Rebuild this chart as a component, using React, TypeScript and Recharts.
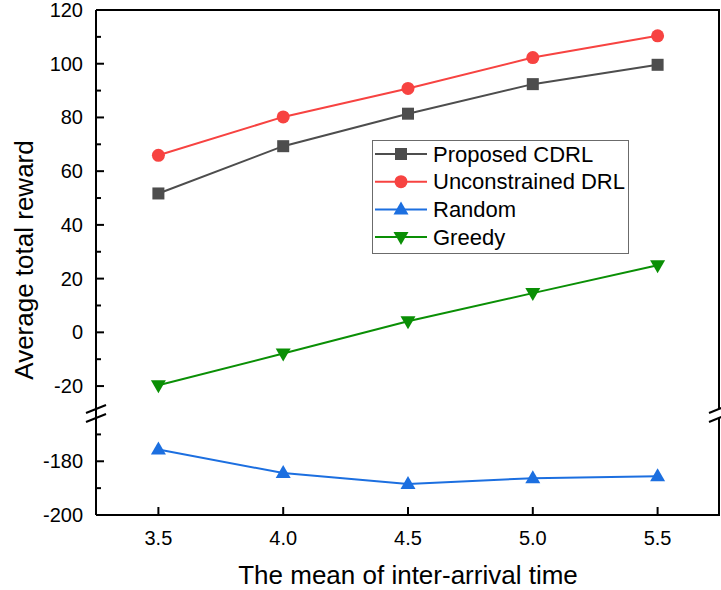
import { LineChart, Line, XAxis, YAxis, Customized } from 'recharts';

const arrivalMeans = [3.5, 4.0, 4.5, 5.0, 5.5];
const proposedCdrl = [51.7, 69.3, 81.4, 92.4, 99.6];
const unconstrainedDrl = [65.9, 80.2, 90.8, 102.3, 110.4];
const randomPolicy = [-175.6, -184.4, -188.5, -186.3, -185.6];
const greedyPolicy = [-19.7, -7.9, 4.1, 14.6, 25.0];

// broken y axis: the lower part (-200..-170) is shifted up by this offset
const LOWER_OFFSET = 132;
const upperTicks = [120, 110, 100, 90, 80, 70, 60, 50, 40, 30, 20, 10, 0, -10, -20];
const lowerTicks = [-170, -180, -190, -200];
const labelledTicks = [120, 100, 80, 60, 40, 20, 0, -20, -180, -200];
const xTicks = [3.5, 4.0, 4.5, 5.0, 5.5];

const Y_MIN = -200 + LOWER_OFFSET;
const Y_MAX = 120;
const BREAK_AT = -31.5;

const W = 721;
const H = 590;
const PLOT_L = 96;
const PLOT_T = 10;
const PLOT_R = 720;
const PLOT_B = 515;
const FONT = '"Liberation Sans", Arial, sans-serif';

const COLORS = {
  cdrl: '#4d4d4d',
  drl: '#f74341',
  random: '#1c6fe0',
  greedy: '#0a8f05',
};

const data = arrivalMeans.map((t, i) => ({
  t,
  cdrl: proposedCdrl[i],
  drl: unconstrainedDrl[i],
  random: randomPolicy[i] + LOWER_OFFSET,
  greedy: greedyPolicy[i],
}));

const allYTicks = [...upperTicks, ...lowerTicks.map((v) => v + LOWER_OFFSET)];

const toLabel = (v: number) => (v < BREAK_AT ? v - LOWER_OFFSET : v);

type Shape = 'square' | 'circle' | 'up' | 'down';

function Marker({ cx, cy, shape, color }: { cx: number; cy: number; shape: Shape; color: string }) {
  if (cx == null || cy == null) return null;
  if (shape === 'square') return <rect x={cx - 6} y={cy - 6} width={12} height={12} fill={color} />;
  if (shape === 'circle') return <circle cx={cx} cy={cy} r={6.5} fill={color} />;
  if (shape === 'up')
    return <polygon points={`${cx},${cy - 8} ${cx + 7.5},${cy + 5} ${cx - 7.5},${cy + 5}`} fill={color} />;
  return <polygon points={`${cx},${cy + 8} ${cx + 7.5},${cy - 5} ${cx - 7.5},${cy - 5}`} fill={color} />;
}

const dotFor = (shape: Shape, color: string) => (props: any) =>
  <Marker key={`${shape}-${props.index}`} cx={props.cx} cy={props.cy} shape={shape} color={color} />;

const Y_MARGIN = 13;
function YTick(props: any) {
  const { x, y, payload } = props;
  const v = payload.value;
  const axisX = x + Y_MARGIN;
  const major = labelledTicks.includes(toLabel(v));
  return (
    <g>
      <line x1={axisX} x2={axisX + (major ? 8 : 5)} y1={y} y2={y} stroke="#000" strokeWidth={2} />
      {major && (
        <text x={x} y={y} textAnchor="end" dominantBaseline="central" fontSize={20} fontFamily={FONT} fill="#000">
          {toLabel(v)}
        </text>
      )}
    </g>
  );
}

const X_MARGIN = 23;
function XTick(props: any) {
  const { x, y, payload } = props;
  const axisY = y - X_MARGIN;
  return (
    <g>
      <line x1={x} x2={x} y1={axisY} y2={axisY - 8} stroke="#000" strokeWidth={2} />
      <text x={x} y={y} textAnchor="middle" dominantBaseline="central" fontSize={20} fontFamily={FONT} fill="#000">
        {payload.value.toFixed(1)}
      </text>
    </g>
  );
}

const legendItems: { name: string; color: string; shape: Shape }[] = [
  { name: 'Proposed CDRL', color: COLORS.cdrl, shape: 'square' },
  { name: 'Unconstrained DRL', color: COLORS.drl, shape: 'circle' },
  { name: 'Random', color: COLORS.random, shape: 'up' },
  { name: 'Greedy', color: COLORS.greedy, shape: 'down' },
];

function LegendBox() {
  return (
    <svg width={257} height={114} style={{ display: 'block' }}>
      <rect x={0.5} y={0.5} width={256} height={113} fill="#fff" stroke="#6b6b6b" strokeWidth={1} />
      {legendItems.map((item, i) => {
        const cy = 14 + i * 27.7;
        return (
          <g key={item.name}>
            <line x1={3} x2={55} y1={cy} y2={cy} stroke={item.color} strokeWidth={2} />
            <Marker cx={29} cy={cy} shape={item.shape} color={item.color} />
            <text x={61} y={cy} dominantBaseline="central" fontSize={22} fontFamily={FONT} fill="#000">
              {item.name}
            </text>
          </g>
        );
      })}
    </svg>
  );
}

const yPix = (v: number) => PLOT_T + ((Y_MAX - v) / (Y_MAX - Y_MIN)) * (PLOT_B - PLOT_T);

function BreakMark({ x }: { x: number }) {
  const yb = yPix(BREAK_AT) - 4;
  return (
    <g>
      <polygon points={`${x - 10},${yb} ${x + 10},${yb - 8} ${x + 10},${yb + 1} ${x - 10},${yb + 9}`} fill="#fff" />
      <line x1={x - 10} y1={yb} x2={x + 10} y2={yb - 8} stroke="#000" strokeWidth={2} />
      <line x1={x - 10} y1={yb + 9} x2={x + 10} y2={yb + 1} stroke="#000" strokeWidth={2} />
    </g>
  );
}

function Decorations() {
  return (
    <g>
      <line x1={PLOT_L} x2={PLOT_R} y1={PLOT_T} y2={PLOT_T} stroke="#000" strokeWidth={2} />
      <line x1={PLOT_R - 1} x2={PLOT_R - 1} y1={PLOT_T} y2={PLOT_B} stroke="#000" strokeWidth={2} />
      <BreakMark x={PLOT_L} />
      <BreakMark x={PLOT_R - 1} />
      <text
        x={24}
        y={260}
        transform="rotate(-90 24 260)"
        textAnchor="middle"
        dominantBaseline="central"
        fontSize={26}
        fontFamily={FONT}
        fill="#000"
      >
        Average total reward
      </text>
      <text x={408} y={575} textAnchor="middle" dominantBaseline="central" fontSize={26} fontFamily={FONT} fill="#000">
        The mean of inter-arrival time
      </text>
    </g>
  );
}

export default function App() {
  return (
    <div style={{ position: 'fixed', left: 0, top: 0, width: W, height: H, background: '#fff' }}>
      <LineChart width={W} height={H} data={data} margin={{ top: PLOT_T, right: W - PLOT_R, left: 0, bottom: 0 }}>
        <XAxis
          dataKey="t"
          type="number"
          domain={[3.25, 5.75]}
          ticks={xTicks}
          height={H - PLOT_B}
          tickLine={false}
          tickSize={0}
          tickMargin={X_MARGIN}
          tick={<XTick />}
          axisLine={{ stroke: '#000', strokeWidth: 2 }}
          interval={0}
        />
        <YAxis
          type="number"
          domain={[Y_MIN, Y_MAX]}
          ticks={allYTicks}
          width={PLOT_L}
          tickLine={false}
          tickSize={0}
          tickMargin={Y_MARGIN}
          tick={<YTick />}
          axisLine={{ stroke: '#000', strokeWidth: 2 }}
          interval={0}
          allowDataOverflow
        />
        <Line dataKey="greedy" name="Greedy" stroke={COLORS.greedy} strokeWidth={2} dot={dotFor('down', COLORS.greedy)} isAnimationActive={false} />
        <Line dataKey="random" name="Random" stroke={COLORS.random} strokeWidth={2} dot={dotFor('up', COLORS.random)} isAnimationActive={false} />
        <Line dataKey="cdrl" name="Proposed CDRL" stroke={COLORS.cdrl} strokeWidth={2} dot={dotFor('square', COLORS.cdrl)} isAnimationActive={false} />
        <Line dataKey="drl" name="Unconstrained DRL" stroke={COLORS.drl} strokeWidth={2} dot={dotFor('circle', COLORS.drl)} isAnimationActive={false} />
        <Customized component={<Decorations />} />
      </LineChart>
      <div style={{ position: 'absolute', left: 372, top: 140 }}>
        <LegendBox />
      </div>
    </div>
  );
}
